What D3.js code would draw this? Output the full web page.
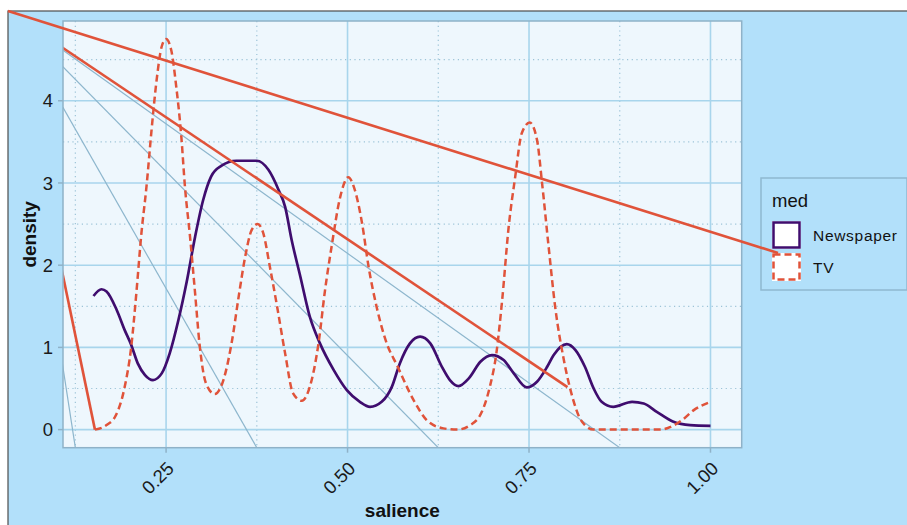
<!DOCTYPE html>
<html>
<head>
<meta charset="utf-8">
<script src="https://cdn.jsdelivr.net/npm/d3@7"></script>
<style>
html, body { margin: 0; padding: 0; background: #fff; }
svg { display: block; font-family: "Liberation Sans", Arial, sans-serif; }
</style>
</head>
<body>
<svg id="chart" width="907" height="525"></svg>
<script>
// ---- data ----
const groups = ['Newspaper', 'TV'];

const newsSalience = [0.150,0.161,0.168,0.182,0.193,0.202,0.211,0.221,0.232,0.244,0.255,0.267,0.278,0.290,0.301,0.312,0.326,0.347,0.375,0.391,0.405,0.414,0.423,0.435,0.448,0.462,0.481,0.499,0.517,0.531,0.547,0.561,0.572,0.586,0.600,0.614,0.630,0.641,0.653,0.667,0.683,0.699,0.715,0.729,0.747,0.761,0.775,0.784,0.802,0.814,0.827,0.839,0.850,0.866,0.892,0.908,0.926,0.949,0.972,1.000];
const newsDensity  = [1.625,1.707,1.680,1.455,1.210,1.030,0.806,0.664,0.603,0.684,0.928,1.333,1.780,2.347,2.790,3.077,3.207,3.270,3.270,3.160,2.915,2.710,2.307,1.860,1.373,1.049,0.724,0.481,0.338,0.277,0.338,0.520,0.805,1.049,1.130,1.049,0.764,0.603,0.530,0.623,0.825,0.907,0.846,0.684,0.513,0.582,0.764,0.907,1.040,0.967,0.764,0.501,0.338,0.277,0.338,0.318,0.216,0.095,0.055,0.046];

const tvSalience = [0.152,0.168,0.181,0.193,0.202,0.209,0.216,0.223,0.230,0.237,0.244,0.250,0.257,0.264,0.271,0.276,0.283,0.290,0.296,0.305,0.317,0.329,0.341,0.350,0.359,0.368,0.376,0.384,0.393,0.403,0.414,0.425,0.437,0.448,0.460,0.469,0.478,0.490,0.501,0.510,0.520,0.529,0.540,0.554,0.568,0.591,0.609,0.632,0.651,0.669,0.685,0.696,0.705,0.713,0.722,0.731,0.740,0.751,0.761,0.768,0.777,0.786,0.798,0.811,0.819,0.827,0.839,0.880,0.931,0.945,0.961,0.977,1.000];
const tvDensity  = [0.000,0.055,0.177,0.520,1.007,1.656,2.386,2.954,3.645,4.254,4.660,4.750,4.620,4.173,3.564,2.954,2.347,1.656,1.049,0.562,0.432,0.603,1.090,1.617,2.104,2.430,2.500,2.386,1.980,1.495,0.927,0.440,0.350,0.520,1.049,1.697,2.225,2.834,3.070,2.915,2.510,1.980,1.495,1.049,0.785,0.359,0.116,0.015,0.000,0.055,0.216,0.520,0.927,1.576,2.468,3.077,3.605,3.735,3.524,2.996,2.225,1.495,0.846,0.359,0.156,0.055,0.000,0.000,0.000,0.034,0.116,0.237,0.338];

const xTicks = [0.25, 0.50, 0.75, 1.00];
const xMinor = [0.125, 0.375, 0.625, 0.875];
const yTicks = [0, 1, 2, 3, 4];
const yMinor = [0.5, 1.5, 2.5, 3.5, 4.5];

// straight lines drawn from the corner of the plot background
const guideFloorX = [0.125, 0.375, 0.625, 0.875];   // thin lines down to the panel floor
const redTargets = [[0.152, 0], [0.803, 0.517]];     // thick red lines into the panel

// ---- layout ----
const bgCorner = { x: 8, y: 11 };
const panel = { left: 63, top: 21, right: 741.7, bottom: 447.7 };

const colors = { Newspaper: '#3f0d6e', TV: '#e0533a' };
const guideColor = '#8db6cd';

const svg = d3.select('#chart');

const x = d3.scaleLinear().domain([0.108, 1.043]).range([panel.left, panel.right]);
const y = d3.scaleLinear().domain([-0.22, 4.97]).range([panel.bottom, panel.top]);

// plot background
svg.append('rect')
    .attr('x', bgCorner.x).attr('y', bgCorner.y)
    .attr('width', 1000).attr('height', 1000)
    .attr('fill', '#b2e0fa')
    .attr('stroke', '#4d4d4d').attr('stroke-width', 1.2);

svg.append('defs').append('clipPath').attr('id', 'panel-clip')
  .append('rect')
    .attr('x', panel.left).attr('y', panel.top)
    .attr('width', panel.right - panel.left).attr('height', panel.bottom - panel.top);

svg.append('rect')
    .attr('x', panel.left).attr('y', panel.top)
    .attr('width', panel.right - panel.left).attr('height', panel.bottom - panel.top)
    .attr('fill', '#eef7fd');

const g = svg.append('g').attr('clip-path', 'url(#panel-clip)');

// grid
g.selectAll('.minor-x').data(xMinor).enter().append('line')
    .attr('x1', d => x(d)).attr('x2', d => x(d))
    .attr('y1', panel.top).attr('y2', panel.bottom)
    .attr('stroke', '#9cc3d7').attr('stroke-width', 1.2).attr('stroke-dasharray', '1.2,3.5');
g.selectAll('.minor-y').data(yMinor).enter().append('line')
    .attr('y1', d => y(d)).attr('y2', d => y(d))
    .attr('x1', panel.left).attr('x2', panel.right)
    .attr('stroke', '#9cc3d7').attr('stroke-width', 1.2).attr('stroke-dasharray', '1.2,3.5');
g.selectAll('.major-x').data(xTicks).enter().append('line')
    .attr('x1', d => x(d)).attr('x2', d => x(d))
    .attr('y1', panel.top).attr('y2', panel.bottom)
    .attr('stroke', '#a8d5ec').attr('stroke-width', 1.6);
g.selectAll('.major-y').data(yTicks).enter().append('line')
    .attr('y1', d => y(d)).attr('y2', d => y(d))
    .attr('x1', panel.left).attr('x2', panel.right)
    .attr('stroke', '#a8d5ec').attr('stroke-width', 1.6);

// thin guide lines
g.selectAll('.guide').data(guideFloorX).enter().append('line')
    .attr('x1', bgCorner.x).attr('y1', bgCorner.y)
    .attr('x2', d => x(d)).attr('y2', panel.bottom)
    .attr('stroke', guideColor).attr('stroke-width', 1.2);

// density curves
const line = d3.line()
    .x(d => x(d[0]))
    .y(d => y(d[1]))
    .curve(d3.curveMonotoneX);

const curves = {
  Newspaper: d3.zip(newsSalience, newsDensity),
  TV: d3.zip(tvSalience, tvDensity)
};

g.append('path')
    .datum(curves.Newspaper)
    .attr('d', line)
    .attr('fill', 'none')
    .attr('stroke', colors.Newspaper).attr('stroke-width', 2.7)
    .attr('stroke-linejoin', 'round');

g.append('path')
    .datum(curves.TV)
    .attr('d', line)
    .attr('fill', 'none')
    .attr('stroke', colors.TV).attr('stroke-width', 2.5)
    .attr('stroke-dasharray', '7,4');

// thick red lines into the panel
g.selectAll('.red').data(redTargets).enter().append('line')
    .attr('x1', bgCorner.x).attr('y1', bgCorner.y)
    .attr('x2', d => x(d[0])).attr('y2', d => y(d[1]))
    .attr('stroke', colors.TV).attr('stroke-width', 2.6);

// panel border
svg.append('rect')
    .attr('x', panel.left).attr('y', panel.top)
    .attr('width', panel.right - panel.left).attr('height', panel.bottom - panel.top)
    .attr('fill', 'none')
    .attr('stroke', '#8fb2c8').attr('stroke-width', 1.5);

// axes
const tickColor = '#8fb2c8';
svg.selectAll('.ytick').data(yTicks).enter().append('line')
    .attr('x1', panel.left - 5).attr('x2', panel.left)
    .attr('y1', d => y(d)).attr('y2', d => y(d))
    .attr('stroke', tickColor).attr('stroke-width', 1.5);
svg.selectAll('.ylab').data(yTicks).enter().append('text')
    .attr('x', panel.left - 10).attr('y', d => y(d))
    .attr('dy', '0.36em')
    .attr('text-anchor', 'end')
    .attr('font-size', 18.5).attr('fill', '#1a1a1a')
    .text(d => d);

svg.selectAll('.xtick').data(xTicks).enter().append('line')
    .attr('x1', d => x(d)).attr('x2', d => x(d))
    .attr('y1', panel.bottom).attr('y2', panel.bottom + 5)
    .attr('stroke', tickColor).attr('stroke-width', 1.5);
svg.selectAll('.xlab').data(xTicks).enter().append('text')
    .attr('transform', d => `translate(${x(d) + 9},${panel.bottom + 22}) rotate(-45)`)
    .attr('text-anchor', 'end')
    .attr('font-size', 18.5).attr('fill', '#1a1a1a')
    .text(d => d3.format('.2f')(d));

svg.append('text')
    .attr('x', (panel.left + panel.right) / 2).attr('y', 517)
    .attr('text-anchor', 'middle')
    .attr('font-size', 19).attr('font-weight', 'bold').attr('fill', '#111')
    .text('salience');

svg.append('text')
    .attr('transform', `translate(36,${(panel.top + panel.bottom) / 2}) rotate(-90)`)
    .attr('text-anchor', 'middle')
    .attr('font-size', 19).attr('font-weight', 'bold').attr('fill', '#111')
    .text('density');

// legend
const legend = svg.append('g').attr('transform', 'translate(761,178)');
legend.append('rect')
    .attr('width', 146).attr('height', 112)
    .attr('fill', '#b2e0fa')
    .attr('stroke', '#8fb8d0').attr('stroke-width', 1.5);
legend.append('text')
    .attr('x', 11).attr('y', 29)
    .attr('font-size', 18.5).attr('fill', '#111')
    .text('med');

const keySize = 28;
const keyY = i => 43 + i * 32;
groups.forEach((grp, i) => {
  legend.append('rect')
      .attr('x', 11).attr('y', keyY(i))
      .attr('width', keySize + 1).attr('height', keySize)
      .attr('fill', '#fff');
  legend.append('rect')
      .attr('x', 12.5).attr('y', keyY(i) + 1.5)
      .attr('width', keySize - 2).attr('height', keySize - 3)
      .attr('fill', '#fff')
      .attr('stroke', colors[grp]).attr('stroke-width', 2.5)
      .attr('stroke-dasharray', grp === 'TV' ? '7,4' : null);
  legend.append('text')
      .attr('x', 52).attr('y', keyY(i) + 20)
      .attr('font-size', 15.5).attr('letter-spacing', 0.7).attr('fill', '#111')
      .text(grp);
});

// long red line from the background corner into the TV legend key
svg.append('line')
    .attr('x1', bgCorner.x).attr('y1', bgCorner.y)
    .attr('x2', 761 + 17).attr('y2', 178 + keyY(1))
    .attr('stroke', colors.TV).attr('stroke-width', 2.6);
</script>
</body>
</html>
